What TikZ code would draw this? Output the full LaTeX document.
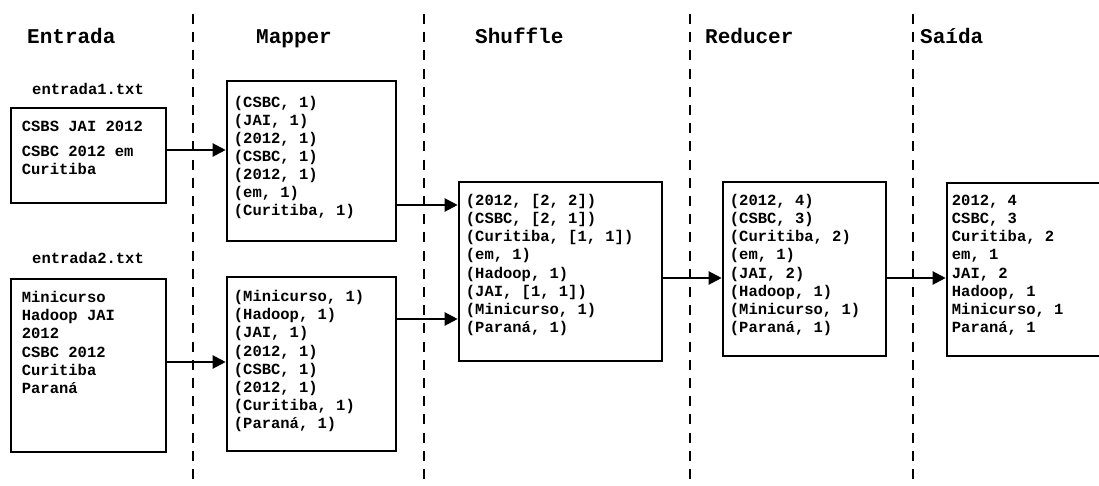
\documentclass[tikz,border=0pt]{standalone}
\usepackage{fontspec}
\newfontfamily\cour{Liberation Mono}
\usetikzlibrary{arrows.meta}
\newcommand{\boxlines}[1]{\begin{tabular}[t]{@{}l@{}}#1\end{tabular}}
\begin{document}
\begin{tikzpicture}[x=1pt,y=-1pt,
  box/.style={draw, line width=2.6pt, inner sep=0pt},
  txt/.style={font=\cour\bfseries\fontsize{15.5}{18.1}\selectfont, anchor=base west, inner sep=0pt},
  head/.style={font=\cour\bfseries\fontsize{21}{24}\selectfont, anchor=base west, inner sep=0pt},
  divider/.style={line width=2.6pt, dash pattern=on 10pt off 8.2pt},
  arr/.style={line width=2.2pt, -{Triangle[length=13pt,width=13pt]}}]
\useasboundingbox (0,0) rectangle (1099,486);
\clip (0,0) rectangle (1099,486);

% phase dividers
\draw[divider] (193,14) -- (193,486);
\draw[divider] (424,14) -- (424,486);
\draw[divider] (690,14) -- (690,486);
\draw[divider] (913,14) -- (913,486);

% phase titles
\node[head] (hin)  at (27,43.5)  {Entrada};
\node[head] (hmap) at (256,43.5) {Mapper};
\node[head] (hshf) at (475,43.5) {Shuffle};
\node[head] (hred) at (705,43.5) {Reducer};
\node[head] (hout) at (920,43.5) {Saída};

% input files
\node[box, minimum width=155pt, minimum height=95pt]  (e1) at (88.5,155.5) {};
\node[box, minimum width=155pt, minimum height=173pt] (e2) at (88.5,365.5) {};
\node[txt] (f1) at (32,95)  {entrada1.txt};
\node[txt] (f2) at (32,263) {entrada2.txt};
\node[txt] (e1t) at ([shift={(12,25)}]e1.north west)
  {\boxlines{CSBS JAI 2012\\[7pt] CSBC 2012 em\\ Curitiba}};
\node[txt] (e2t) at ([shift={(12,25)}]e2.north west)
  {\boxlines{Minicurso\\ Hadoop JAI\\ 2012\\ CSBC 2012\\ Curitiba\\ Paraná}};

% mappers
\node[box, minimum width=169pt, minimum height=160pt] (m1) at (311.5,161) {};
\node[box, minimum width=169pt, minimum height=174pt] (m2) at (311.5,364) {};
\node[txt] (m1t) at ([shift={(8,27.5)}]m1.north west)
  {\boxlines{(CSBC, 1)\\ (JAI, 1)\\ (2012, 1)\\ (CSBC, 1)\\ (2012, 1)\\ (em, 1)\\ (Curitiba, 1)}};
\node[txt] (m2t) at ([shift={(8,26)}]m2.north west)
  {\boxlines{(Minicurso, 1)\\ (Hadoop, 1)\\ (JAI, 1)\\ (2012, 1)\\ (CSBC, 1)\\ (2012, 1)\\ (Curitiba, 1)\\ (Paraná, 1)}};

% shuffle
\node[box, minimum width=203pt, minimum height=179pt] (s) at (560.5,271.5) {};
\node[txt] (st) at ([shift={(8,25)}]s.north west)
  {\boxlines{(2012, [2, 2])\\ (CSBC, [2, 1])\\ (Curitiba, [1, 1])\\ (em, 1)\\ (Hadoop, 1)\\ (JAI, [1, 1])\\ (Minicurso, 1)\\ (Paraná, 1)}};

% reducer
\node[box, minimum width=163pt, minimum height=174pt] (r) at (804.5,269) {};
\node[txt] (rt) at ([shift={(8,25)}]r.north west)
  {\boxlines{(2012, 4)\\ (CSBC, 3)\\ (Curitiba, 2)\\ (em, 1)\\ (JAI, 2)\\ (Hadoop, 1)\\ (Minicurso, 1)\\ (Paraná, 1)}};

% output
\node[box, minimum width=200pt, minimum height=173pt] (o) at (1047,269.5) {};
\node[txt] (ot) at ([shift={(6,24)}]o.north west)
  {\boxlines{2012, 4\\ CSBC, 3\\ Curitiba, 2\\ em, 1\\ JAI, 2\\ Hadoop, 1\\ Minicurso, 1\\ Paraná, 1}};

% data flow
\coordinate (y1) at (0,150);
\coordinate (y2) at (0,362);
\coordinate (y3) at (0,205);
\coordinate (y4) at (0,319);
\coordinate (y5) at (0,278);
\draw[arr] (e1.east |- y1) -- (m1.west |- y1);
\draw[arr] (e2.east |- y2) -- (m2.west |- y2);
\draw[arr] (m1.east |- y3) -- (s.west |- y3);
\draw[arr] (m2.east |- y4) -- (s.west |- y4);
\draw[arr] (s.east |- y5) -- (r.west |- y5);
\draw[arr] (r.east |- y5) -- (o.west |- y5);
\end{tikzpicture}
\end{document}
